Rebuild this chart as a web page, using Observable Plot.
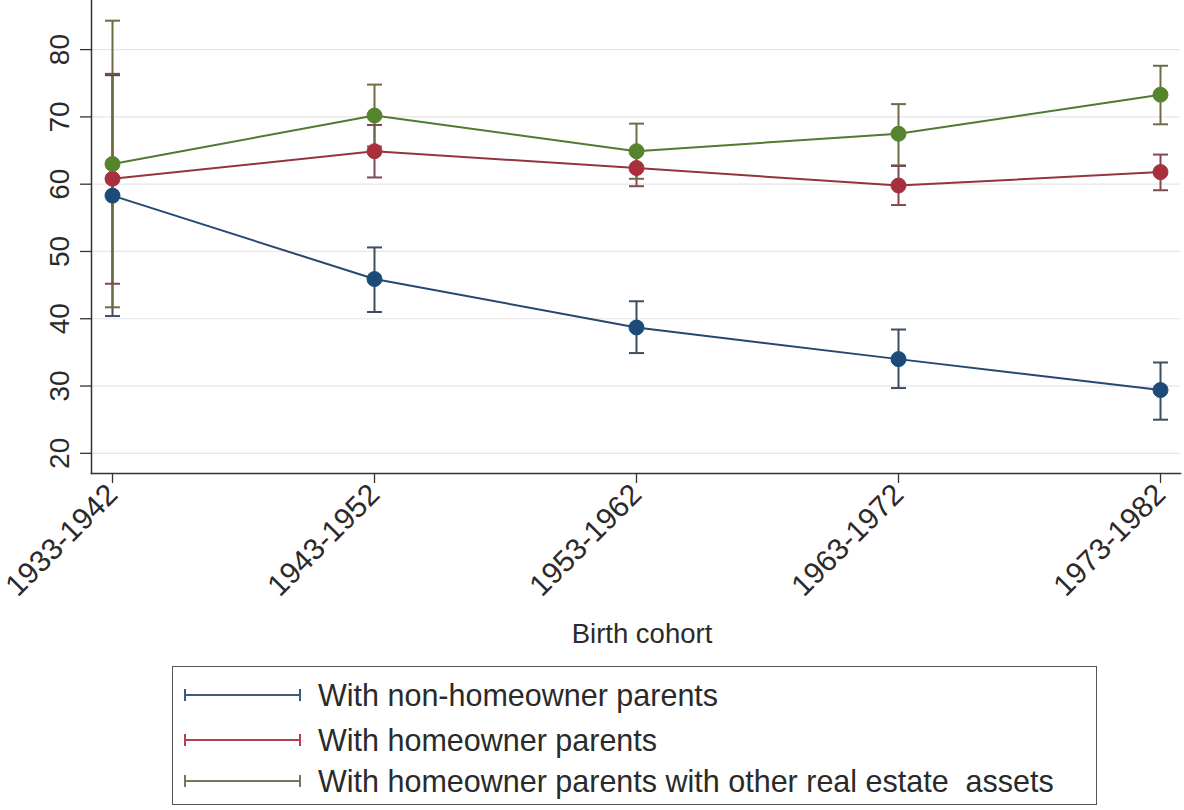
<!DOCTYPE html>
<html>
<head>
<meta charset="utf-8">
<script src="https://cdn.jsdelivr.net/npm/d3@7"></script>
<script src="https://cdn.jsdelivr.net/npm/@observablehq/plot@0.6"></script>
<style>
  html, body { margin: 0; padding: 0; background: #fff; }
  body { width: 1184px; height: 810px; overflow: hidden; font-family: "Liberation Sans", Arial, sans-serif; }
  #chart { position: absolute; left: 0; top: 0; }
  #legend { position: absolute; left: 172px; top: 666px; width: 925px; height: 139px;
            border: 1.5px solid #555; box-sizing: border-box; }
</style>
</head>
<body>
<div id="chart"></div>
<div id="legend"></div>
<script>
const cohorts = ["1933-1942", "1943-1952", "1953-1962", "1963-1972", "1973-1982"];
const seriesNames = [
  "With non-homeowner parents",
  "With homeowner parents",
  "With homeowner parents with other real estate  assets"
];
const nonOwnerMean = [58.3, 45.9, 38.7, 34.0, 29.4];
const nonOwnerLow  = [40.4, 41.0, 34.9, 29.7, 25.0];
const nonOwnerHigh = [76.2, 50.6, 42.6, 38.4, 33.5];
const ownerMean = [60.8, 64.9, 62.4, 59.8, 61.8];
const ownerLow  = [45.2, 61.0, 59.7, 56.9, 59.1];
const ownerHigh = [76.4, 68.8, 65.1, 62.7, 64.4];
const realEstateMean = [63.0, 70.2, 64.9, 67.5, 73.3];
const realEstateLow  = [41.7, 65.6, 60.8, 62.8, 68.9];
const realEstateHigh = [84.3, 74.8, 69.0, 71.9, 77.6];
const yTicks = [20, 30, 40, 50, 60, 70, 80];

const lineColors = ["#24486f", "#94343f", "#4f7a32"];
const dotColors = ["#1c4b7a", "#a8303c", "#56832d"];
const barColors = ["#3e4d60", "#7d4a52", "#6e6c40"];
const legendColors = ["#3d5b80", "#b3404f", "#6f7a58"];

const means = [nonOwnerMean, ownerMean, realEstateMean];
const lows = [nonOwnerLow, ownerLow, realEstateLow];
const highs = [nonOwnerHigh, ownerHigh, realEstateHigh];

const rows = [];
seriesNames.forEach((s, si) => {
  cohorts.forEach((c, i) => {
    rows.push({series: s, si, cohort: c, mean: means[si][i], low: lows[si][i], high: highs[si][i]});
  });
});

const capSymbol = {
  draw(context, size) {
    const w = Math.sqrt(size / Math.PI);
    context.moveTo(-w, 0);
    context.lineTo(w, 0);
  }
};

const font = "Liberation Sans, Arial, sans-serif";

const chart = Plot.plot({
  width: 1184,
  height: 655,
  marginLeft: 91,
  marginRight: 4,
  marginTop: 0,
  marginBottom: 182,
  style: {fontFamily: font, fontSize: "28px", color: "#222", background: "#fff"},
  x: {type: "point", domain: cohorts, padding: 0.072},
  y: {domain: [17, 87.3]},
  color: {domain: seriesNames, range: lineColors},
  marks: [
    Plot.gridY(yTicks, {stroke: "#e6e6e6", strokeOpacity: 1, strokeWidth: 1.2}),
    Plot.frame({anchor: "left", stroke: "#333", strokeWidth: 1.5}),
    Plot.frame({anchor: "bottom", stroke: "#333", strokeWidth: 1.5}),
    Plot.axisY(yTicks, {
      tickSize: 11, tickPadding: 12, tickRotate: -90, textAnchor: "middle", lineAnchor: "bottom",
      stroke: "#333", strokeWidth: 1.3, fontSize: 28, fill: "#2a2a2a", label: null
    }),
    Plot.axisX({
      tickSize: 10, tickPadding: 6, tickRotate: -45, fontSize: 30, fill: "#2a2a2a",
      stroke: "#333", strokeWidth: 1.3, label: null
    }),
    Plot.ruleX(rows, {x: "cohort", y1: "low", y2: "high", stroke: d => barColors[d.si], strokeWidth: 2}),
    Plot.dot(rows, {x: "cohort", y: "low", symbol: capSymbol, r: 7.5, stroke: d => barColors[d.si], strokeWidth: 2, fill: "none"}),
    Plot.dot(rows, {x: "cohort", y: "high", symbol: capSymbol, r: 7.5, stroke: d => barColors[d.si], strokeWidth: 2, fill: "none"}),
    Plot.line(rows, {x: "cohort", y: "mean", z: "series", stroke: d => lineColors[d.si], strokeWidth: 2}),
    Plot.dot(rows, {x: "cohort", y: "mean", r: 7.5, fill: d => dotColors[d.si], stroke: d => dotColors[d.si], strokeWidth: 1})
  ]
});

// x axis title
const svg = d3.select(chart);
svg.append("text")
  .attr("x", 642).attr("y", 643)
  .attr("text-anchor", "middle")
  .style("font-family", font).style("font-size", "27.5px").attr("fill", "#2a2a2a")
  .text("Birth cohort");

document.getElementById("chart").appendChild(chart);

// legend
const lg = d3.select("#legend").append("svg")
  .attr("width", 922).attr("height", 136)
  .style("display", "block");
const rowY = [28, 73, 114];
seriesNames.forEach((s, i) => {
  const g = lg.append("g").attr("transform", `translate(0,${rowY[i]})`);
  g.append("line").attr("x1", 12).attr("x2", 127).attr("y1", 0).attr("y2", 0)
    .attr("stroke", legendColors[i]).attr("stroke-width", 2);
  g.append("line").attr("x1", 12).attr("x2", 12).attr("y1", -6).attr("y2", 6)
    .attr("stroke", legendColors[i]).attr("stroke-width", 2);
  g.append("line").attr("x1", 127).attr("x2", 127).attr("y1", -6).attr("y2", 6)
    .attr("stroke", legendColors[i]).attr("stroke-width", 2);
  g.append("text").attr("x", 145).attr("y", 0).attr("dy", "0.35em")
    .style("font-family", font).style("font-size", "30.5px").style("white-space", "pre")
    .attr("fill", "#2a2a2a").text(s);
});
</script>
</body>
</html>
